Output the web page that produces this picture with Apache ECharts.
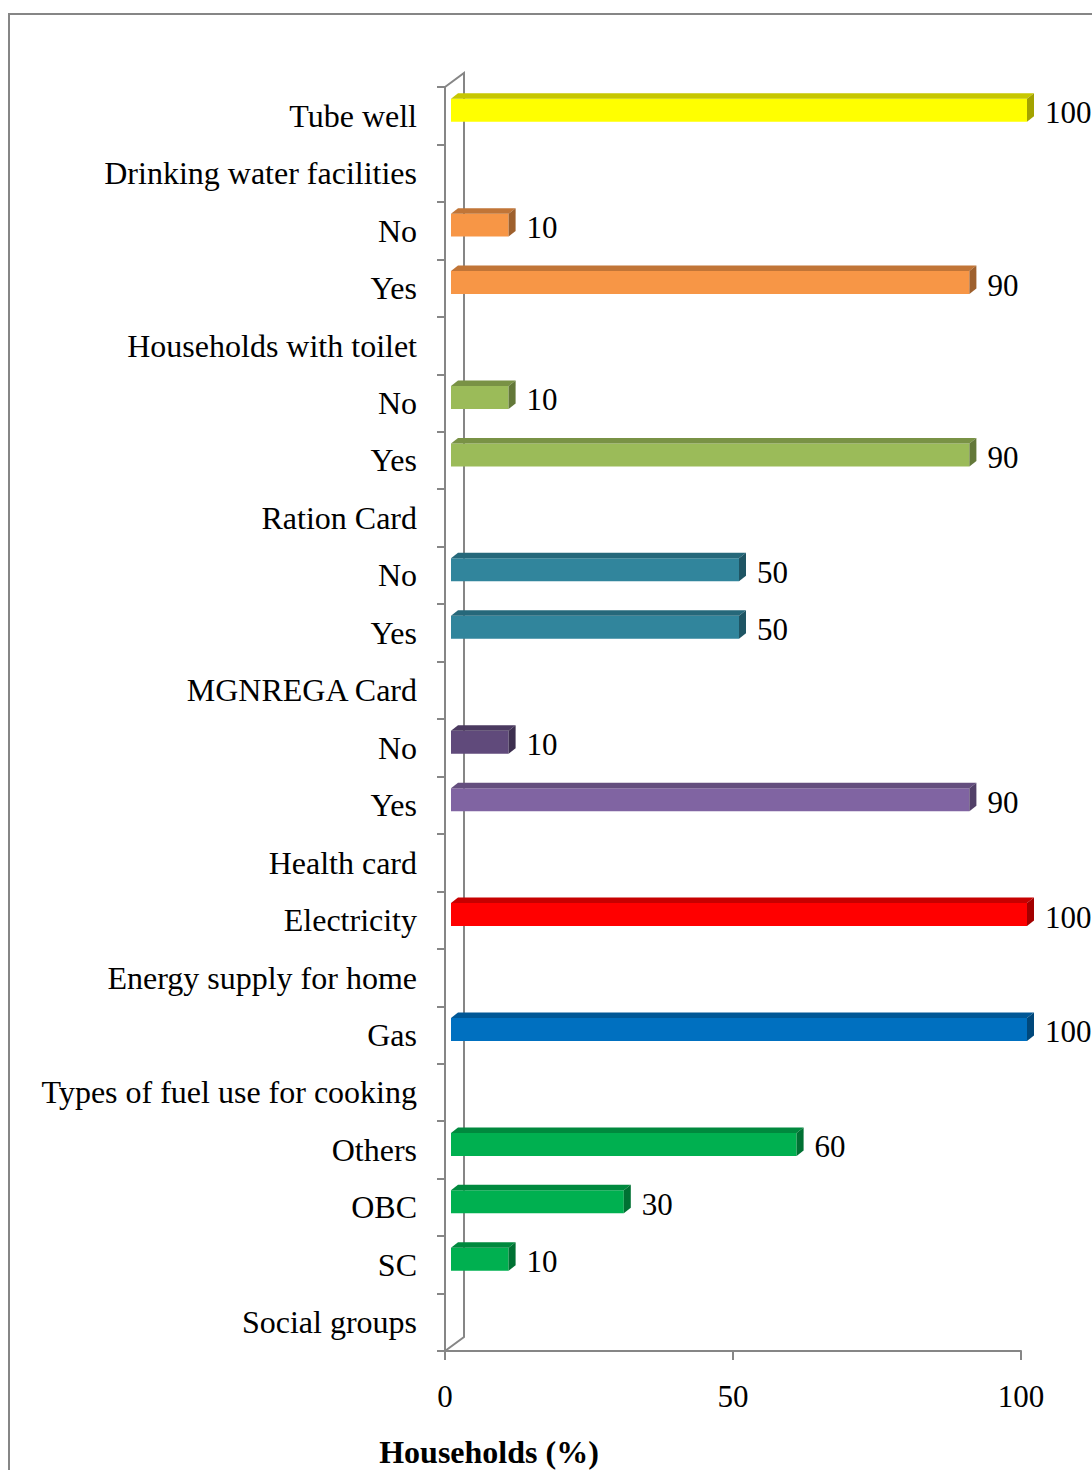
<!DOCTYPE html>
<html>
<head>
<meta charset="utf-8">
<title>Household amenities</title>
<script src="https://cdn.jsdelivr.net/npm/echarts@6/dist/echarts.min.js"></script>
<style>
  html, body { margin: 0; padding: 0; background: #ffffff; }
  #chart { width: 1092px; height: 1470px; }
</style>
</head>
<body>
<div id="chart"></div>
<script>
// Categories listed top to bottom; group headers carry no value.
const categories = [
  'Tube well', 'Drinking water facilities', 'No', 'Yes',
  'Households with toilet', 'No', 'Yes',
  'Ration Card', 'No', 'Yes',
  'MGNREGA Card', 'No', 'Yes',
  'Health card', 'Electricity',
  'Energy supply for home', 'Gas',
  'Types of fuel use for cooking', 'Others', 'OBC', 'SC',
  'Social groups'
];
const values = [
  100, null, 10, 90,
  null, 10, 90,
  null, 50, 50,
  null, 10, 90,
  null, 100,
  null, 100,
  null, 60, 30, 10,
  null
];
const xTickValues = [0, 50, 100];
const axisTitle = 'Households (%)';

// Fill colour of each bar, per category row.
const barColors = [
  '#FFFF00', null, '#F79646', '#F79646',
  null, '#9BBB59', '#9BBB59',
  null, '#31859C', '#31859C',
  null, '#604A7B', '#8064A2',
  null, '#FF0000',
  null, '#0070C0',
  null, '#00B050', '#00B050', '#00B050',
  null
];

const FONT = '"Liberation Serif", "Times New Roman", serif';
const AXIS_GREY = '#868686';
const GRID = { left: 445, top: 87, width: 576, height: 1264 };
const WALL_DX = 19, WALL_DY = 14;     // depth of the 3D back wall
const BAR_DX = 7, BAR_DY = 5.5;       // depth of each bar
const BAR_SHIFT = 6;                  // bars sit slightly behind the front plane

function shade(hex, k) {
  const n = parseInt(hex.slice(1), 16);
  const r = Math.round(((n >> 16) & 255) * k);
  const g = Math.round(((n >> 8) & 255) * k);
  const b = Math.round((n & 255) * k);
  return 'rgb(' + r + ',' + g + ',' + b + ')';
}

const seriesData = [];
values.forEach(function (v, i) {
  if (v !== null) seriesData.push([v, i]);
});

function renderBar(params, api) {
  const v = api.value(0);
  const idx = api.value(1);
  const base = api.coord([0, idx]);
  const end = api.coord([v, idx]);
  const band = api.size([0, 1])[1];
  const color = barColors[idx];

  const x0 = base[0] + BAR_SHIFT;
  const x1 = end[0] + BAR_SHIFT;
  const yTop = base[1] - band * 0.296;
  const yBot = base[1] + band * 0.104;

  return {
    type: 'group',
    children: [
      {
        type: 'rect',
        shape: { x: x0, y: yTop, width: x1 - x0, height: yBot - yTop },
        style: { fill: color }
      },
      {
        type: 'polygon',
        shape: { points: [[x0, yTop], [x0 + BAR_DX, yTop - BAR_DY], [x1 + BAR_DX, yTop - BAR_DY], [x1, yTop]] },
        style: { fill: shade(color, 0.78) }
      },
      {
        type: 'polygon',
        shape: { points: [[x1, yTop], [x1 + BAR_DX, yTop - BAR_DY], [x1 + BAR_DX, yBot - BAR_DY], [x1, yBot]] },
        style: { fill: shade(color, 0.64) }
      },
      {
        type: 'text',
        style: {
          x: x1 + BAR_DX + 11,
          y: (yTop + yBot) / 2 + 2.5,
          text: String(v),
          fill: '#000000',
          font: '31px ' + FONT,
          align: 'left',
          verticalAlign: 'middle'
        }
      }
    ]
  };
}

const chart = echarts.init(document.getElementById('chart'), null, { renderer: 'svg' });

const wallPoints = [
  [GRID.left, GRID.top],
  [GRID.left + WALL_DX, GRID.top - WALL_DY],
  [GRID.left + WALL_DX, GRID.top + GRID.height - WALL_DY],
  [GRID.left, GRID.top + GRID.height]
];

chart.setOption({
  animation: false,
  backgroundColor: '#ffffff',
  grid: {
    left: GRID.left,
    top: GRID.top,
    width: GRID.width,
    height: GRID.height,
    containLabel: false
  },
  xAxis: {
    type: 'value',
    min: xTickValues[0],
    max: xTickValues[xTickValues.length - 1],
    interval: xTickValues[1] - xTickValues[0],
    splitLine: { show: false },
    axisLine: { show: true, lineStyle: { color: AXIS_GREY, width: 2 } },
    axisTick: { show: true, length: 9, lineStyle: { color: AXIS_GREY, width: 2 } },
    axisLabel: { color: '#000000', fontSize: 31, fontFamily: FONT, margin: 30 }
  },
  yAxis: {
    type: 'category',
    inverse: true,
    data: categories,
    boundaryGap: true,
    axisLine: { show: true, lineStyle: { color: AXIS_GREY, width: 2 } },
    axisTick: { show: true, interval: 0, length: 8, inside: false, lineStyle: { color: AXIS_GREY, width: 2 } },
    axisLabel: {
      interval: 0, color: '#000000', fontSize: 32, fontFamily: FONT, margin: 28,
      padding: [4, 0, 0, 0]
    },
    splitLine: { show: false }
  },
  graphic: [
    {
      type: 'rect',
      z: 0,
      shape: { x: 9, y: 14, width: 1300, height: 1700 },
      style: { fill: null, stroke: AXIS_GREY, lineWidth: 2 }
    },
    {
      type: 'polyline',
      z: 0,
      shape: { points: wallPoints },
      style: { fill: null, stroke: AXIS_GREY, lineWidth: 2 }
    },
    {
      type: 'text',
      z: 5,
      style: {
        x: 489,
        y: 1452,
        text: axisTitle,
        fill: '#000000',
        font: 'bold 32px ' + FONT,
        align: 'center',
        verticalAlign: 'middle'
      }
    }
  ],
  series: [
    {
      type: 'custom',
      renderItem: renderBar,
      encode: { x: 0, y: 1 },
      data: seriesData,
      z: 3
    }
  ]
});
</script>
</body>
</html>
